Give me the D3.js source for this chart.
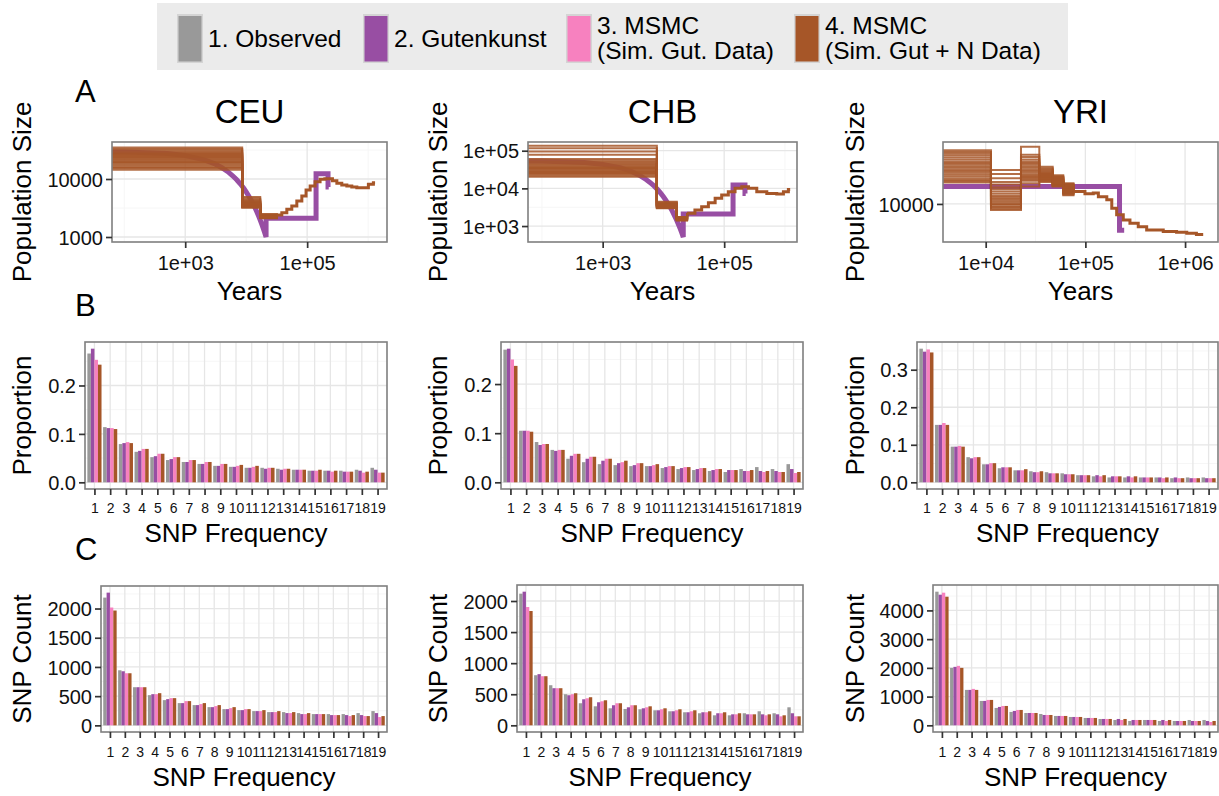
<!DOCTYPE html>
<html><head><meta charset="utf-8">
<script src="https://cdn.jsdelivr.net/npm/d3@7"></script>
<style>
body{margin:0;background:#fff}
svg{display:block}
text{font-family:"Liberation Sans",Arial,Helvetica,sans-serif}
</style>
</head><body>
<svg id="c" width="1219" height="796"></svg>
<script>
// ---------------- DATA ----------------
const seriesNames = ["1. Observed", "2. Gutenkunst", "3. MSMC (Sim. Gut. Data)", "4. MSMC (Sim. Gut + N Data)"];
const seriesColors = ["#999999", "#984EA3", "#F781BF", "#A65628"];
const populations = ["CEU", "CHB", "YRI"];
const snpFreq = [1,2,3,4,5,6,7,8,9,10,11,12,13,14,15,16,17,18,19];

// Panel B: proportions
const propCEU_obs  = [0.266,0.114,0.079,0.063,0.052,0.046,0.042,0.038,0.034,0.032,0.030,0.030,0.028,0.026,0.024,0.024,0.024,0.026,0.030];
const propCEU_gut  = [0.276,0.112,0.081,0.065,0.054,0.048,0.042,0.038,0.034,0.032,0.030,0.028,0.026,0.026,0.024,0.024,0.022,0.024,0.026];
const propCEU_msG  = [0.253,0.112,0.083,0.069,0.059,0.052,0.046,0.042,0.038,0.034,0.032,0.030,0.028,0.026,0.024,0.022,0.022,0.020,0.020];
const propCEU_msN  = [0.243,0.110,0.081,0.069,0.059,0.052,0.046,0.042,0.038,0.036,0.034,0.030,0.028,0.026,0.026,0.024,0.022,0.022,0.020];
const propCHB_obs  = [0.270,0.105,0.082,0.066,0.048,0.041,0.037,0.035,0.033,0.033,0.029,0.027,0.025,0.023,0.021,0.027,0.031,0.027,0.037];
const propCHB_gut  = [0.272,0.105,0.076,0.064,0.054,0.048,0.044,0.039,0.035,0.033,0.031,0.029,0.027,0.025,0.025,0.023,0.023,0.023,0.027];
const propCHB_msG  = [0.250,0.105,0.078,0.066,0.058,0.052,0.048,0.041,0.039,0.035,0.033,0.031,0.029,0.027,0.025,0.023,0.021,0.021,0.019];
const propCHB_msN  = [0.237,0.103,0.078,0.066,0.058,0.052,0.048,0.044,0.039,0.037,0.033,0.031,0.029,0.027,0.025,0.025,0.023,0.021,0.021];
const propYRI_obs  = [0.356,0.153,0.095,0.067,0.048,0.0375,0.032,0.0295,0.027,0.024,0.019,0.016,0.013,0.013,0.013,0.013,0.011,0.013,0.013];
const propYRI_gut  = [0.348,0.153,0.095,0.064,0.048,0.040,0.032,0.027,0.024,0.0215,0.019,0.019,0.016,0.016,0.013,0.013,0.013,0.011,0.011];
const propYRI_msG  = [0.354,0.158,0.097,0.067,0.051,0.040,0.032,0.027,0.024,0.0215,0.019,0.016,0.016,0.013,0.013,0.011,0.011,0.011,0.011];
const propYRI_msN  = [0.346,0.153,0.095,0.067,0.051,0.040,0.035,0.0295,0.024,0.0215,0.019,0.019,0.016,0.016,0.013,0.013,0.011,0.011,0.011];

// Panel C: counts
const cntCEU_obs = [2187,943,653,517,432,381,347,312,278,261,244,227,227,210,193,193,193,210,244];
const cntCEU_gut = [2272,926,653,534,449,381,347,312,278,261,244,227,210,193,193,176,176,176,210];
const cntCEU_msG = [2017,892,653,534,466,415,364,330,295,278,244,227,210,193,193,176,159,159,142];
const cntCEU_msN = [1966,892,653,551,466,415,381,347,312,278,261,244,227,210,193,176,176,159,159];
const cntCHB_obs = [2118,806,645,500,355,306,274,263,258,242,226,210,194,161,161,194,226,194,290];
const cntCHB_gut = [2150,823,597,484,419,371,323,290,274,242,226,210,210,194,177,177,177,177,194];
const cntCHB_msG = [1903,790,597,500,435,387,355,323,290,258,242,226,210,194,177,177,161,145,145];
const cntCHB_msN = [1839,790,597,516,452,403,355,323,306,274,258,242,226,210,194,177,177,161,145];
const cntYRI_obs = [4652,2000,1233,849,605,465,430,395,326,291,256,221,186,151,186,151,151,186,186];
const cntYRI_gut = [4547,2035,1233,849,640,500,430,360,326,291,256,221,221,186,186,186,151,151,151];
const cntYRI_msG = [4617,2070,1268,884,674,535,430,360,326,291,256,221,186,186,186,151,151,151,116];
const cntYRI_msN = [4477,2000,1233,884,674,535,430,360,326,291,256,221,221,186,186,186,151,151,151];

// Panel A: Gutenkunst model [years, N]
const gutCEU = [[63,29300],[100,29250],[500,27440],[1000,25330],[2000,21590],[3000,18390],[4000,15670],[5000,13360],[6000,11380],[7000,9700],[8000,8260],[9000,7040],[10000,6000],[11000,5110],[12000,4360],[13000,3710],[14000,3160],[15000,2700],[16000,2300],[17000,1960],[18000,1670],[19000,1420],[20000,1210],[21000,1030],[21200,1000],[21200,2100],[140000,2100],[140000,12300],[220000,12300],[220000,7300],[226000,7300]];
const gutCHB = [[59,53000],[100,52900],[500,48500],[1000,43400],[2000,34800],[3000,27900],[4000,22400],[5000,18000],[6000,14400],[7000,11600],[8000,9300],[9000,7460],[10000,5990],[11000,4810],[12000,3860],[13000,3100],[14000,2490],[15000,1990],[16000,1600],[17000,1285],[18000,1030],[19000,827],[20000,664],[21000,533],[21200,510],[21200,2100],[140000,2100],[140000,12300],[220000,12300],[220000,7300],[226000,7300]];
const gutYRI = [[3730,12300],[220000,12300],[220000,7300],[245000,7300]];

// Panel A: MSMC replicates - segment start times and per-replicate sizes
const ceuSegStarts = [63, 8600, 17000];
const ceuSeg1 = [22000,31000,18000,26000,15500,24000,35000,20000,17000,28000,21000,19000,33000,16000,25000,14500,23000,29500,19500,27000];
const ceuSeg2 = [3700,4200,3400,4900,3550,3900,3300,4100,3600,3250,4600,3450,3800,3650,4000,3200,4400,3500,3750,3350];
const ceuSeg3 = [2250,2350,2150,2300,2200,2400,2100,2280,2180,2450,2230,2320,2120,2260,2380,2160,2210,2340,2500,2240];
const ceuTail = [[31800,2390],[38400,2630],[46400,3000],[56000,3420],[67700,4170],[81800,5090],[96000,6460],[112000,7570],[135000,8970],[163000,9860],[195000,10100],[260000,9300],[307000,8430],[370000,7900],[448000,7570],[540000,7300],[653000,7080],[840000,7080],[1010000,8090],[1220000,8630],[1300000,8630]];

const chbSegStarts = [59, 7800, 16600];
const chbSeg1 = [33000,46000,25500,136000,29000,40000,22000,55000,31000,24000,95000,37000,27000,60000,20500,43000,117000,35000,78000,50000];
const chbSeg2 = [3400,3900,3150,4400,3550,3250,3700,3000,3600,4200,3300,3450,2950,3800,3500,3100,4000,3350,3650,3200];
const chbSeg3 = [1550,1650,1450,1700,1500,1600,1400,1750,1520,1580,1480,1620,1560,1680,1430,1530,1610,1470,1570,1640];
const chbTail = [[24500,2170],[33000,2650],[42600,3250],[55000,4150],[71000,5430],[91000,6640],[117000,8130],[151000,10000],[195000,11000],[251000,10000],[344000,8130],[503000,7360],[734000,7060],[944000,8130],[1140000,9400],[1220000,9400]];

const yriSegStarts = [3730, 11300, 22600, 34500, 47000, 60000];
const yriSeg1 = [16000,18600,13600,17400,14800,19000,15400,13100,17000,14200,16600,12900,18200,15100,13900,16300,14500,17800,13300,15700];
const yriSeg2 = [11300,13600,9700,15000,10400,12200,9300,11900,10800,14300,10000,12600,9600,11600,13000,9900,11000,10200,9450,10600];
const yriSeg3 = [15400,17500,13400,19800,14500,16300,12300,15700,13800,18000,14800,16600,13200,15100,17000,12800,14200,16000,13600,14000];
const yriSeg4 = [14200,15300,13500,15600,13800,14700,13000,14400,13700,15100,13300,14900,13150,14100,14500,13400,14000,13900,13600,14300];
const yriSeg5 = [13300,14100,12600,13800,12900,13500,12300,13100,12700,13900,12450,13600,12500,13000,13700,12400,13200,12650,12800,13400];
const yriSeg6 = [11900,12700,11400,12800,11600,12300,11100,12100,11700,12600,11300,12400,11200,12000,12500,11500,11950,11650,11800,12200];
const yriTail = [[76000,11600],[99000,11300],[120000,11400],[135000,10900],[164000,10500],[184000,9500],[206000,8780],[240000,8260],[280000,7940],[339000,7620],[412000,7330],[604000,7190],[822000,7130],[1040000,7050],[1300000,6950],[1520000,6950]];

// Panel A axes (limits and ticks)
const aXDomains = [[63, 2040000], [59, 1580000], [3730, 2140000]];
const aYDomains = [[820, 43450], [377, 170200], [6350, 20940]];
const aXTicks = [[1e3, 1e5], [1e3, 1e5], [1e4, 1e5, 1e6]];
const aXTickLabels = [["1e+03","1e+05"], ["1e+03","1e+05"], ["1e+04","1e+05","1e+06"]];
const aXMinor = [[1e2, 1e4, 1e6], [1e2, 1e4, 1e6], [31623, 316228]];
const aYTicks = [[1000, 10000], [1e3, 1e4, 1e5], [10000]];
const aYTickLabels = [["1000","10000"], ["1e+03","1e+04","1e+05"], ["10000"]];
const aYMinor = [[3162, 31623], [3162, 31623], []];

const bYTicks = [[0, 0.1, 0.2], [0, 0.1, 0.2], [0, 0.1, 0.2, 0.3]];
const cYTicks = [[0, 500, 1000, 1500, 2000], [0, 500, 1000, 1500, 2000], [0, 1000, 2000, 3000, 4000]];

// ---------------- LAYOUT ----------------
const layoutA = [{x0:112,x1:387,y0:142,y1:242},{x0:528,x1:797,y0:142,y1:242},{x0:943,x1:1218,y0:142,y1:242}];
const layoutB = [{x0:85,x1:387,y0:342,y1:489},{x0:501,x1:803,y0:342,y1:489},{x0:917,x1:1218,y0:342,y1:489}];
const layoutC = [{x0:101,x1:387,y0:586,y1:732},{x0:517,x1:803,y0:585,y1:732},{x0:933,x1:1218,y0:585,y1:732}];
const yTitleX = [31, 447, 864];

const svg = d3.select("#c");
const GRID_MAJOR = "#e6e6e6", GRID_MINOR = "#f6f6f6", BORDER = "#7f7f7f";
let clipId = 0;

function frame(r) {
  const g = svg.append("g");
  const id = "clip" + (clipId++);
  svg.append("clipPath").attr("id", id).append("rect")
    .attr("x", r.x0).attr("y", r.y0).attr("width", r.x1 - r.x0).attr("height", r.y1 - r.y0);
  g.append("rect").attr("x", r.x0).attr("y", r.y0).attr("width", r.x1 - r.x0).attr("height", r.y1 - r.y0).attr("fill", "#fff");
  const inner = g.append("g").attr("clip-path", `url(#${id})`);
  return {g, inner};
}
function vgrid(inner, r, x, vals, col, w) {
  inner.selectAll(null).data(vals).enter().append("line")
    .attr("x1", d => x(d)).attr("x2", d => x(d)).attr("y1", r.y0).attr("y2", r.y1)
    .attr("stroke", col).attr("stroke-width", w);
}
function hgrid(inner, r, y, vals, col, w) {
  inner.selectAll(null).data(vals).enter().append("line")
    .attr("y1", d => y(d)).attr("y2", d => y(d)).attr("x1", r.x0).attr("x2", r.x1)
    .attr("stroke", col).attr("stroke-width", w);
}
function border(g, r) {
  g.append("rect").attr("x", r.x0).attr("y", r.y0).attr("width", r.x1 - r.x0).attr("height", r.y1 - r.y0)
    .attr("fill", "none").attr("stroke", BORDER).attr("stroke-width", 1.6);
}
function styleAxis(ax, fs) {
  ax.select(".domain").remove();
  ax.attr("font-family", null).attr("font-size", null);
  ax.selectAll(".tick line").attr("stroke", "#333").attr("stroke-width", 1.7);
  ax.selectAll(".tick text").attr("fill", "#111").style("font-size", fs + "px");
}
function xAxis(r, x, vals, fmt, fs, baseline) {
  const ax = svg.append("g").attr("transform", `translate(0,${r.y1})`)
    .call(d3.axisBottom(x).tickValues(vals).tickFormat(fmt).tickSize(6).tickSizeOuter(0));
  styleAxis(ax, fs);
  ax.selectAll(".tick text").attr("y", baseline - r.y1).attr("dy", 0);
}
function yAxis(r, y, vals, fmt, fs) {
  const ax = svg.append("g").attr("transform", `translate(${r.x0},0)`)
    .call(d3.axisLeft(y).tickValues(vals).tickFormat(fmt).tickSize(6).tickSizeOuter(0));
  styleAxis(ax, fs);
  ax.selectAll(".tick text").attr("x", -9).attr("dy", "0.36em");
}
function xTitle(r, txt, baseline) {
  svg.append("text").attr("x", (r.x0 + r.x1) / 2).attr("y", baseline).attr("text-anchor", "middle")
    .style("font-size", "26px").attr("fill", "#000").text(txt);
}
function yTitle(r, xpos, txt) {
  const cy = (r.y0 + r.y1) / 2;
  svg.append("text").attr("transform", `translate(${xpos},${cy}) rotate(-90)`).attr("text-anchor", "middle")
    .style("font-size", "26px").attr("fill", "#000").text(txt);
}

// ---------------- LEGEND ----------------
const legendG = svg.append("g");
legendG.append("rect").attr("x", 157).attr("y", 3).attr("width", 911).attr("height", 67).attr("fill", "#ebebeb");
const legendKeyX = [177, 363, 566, 794];
const legendLines = [["1. Observed"], ["2. Gutenkunst"], ["3. MSMC", "(Sim. Gut. Data)"], ["4. MSMC", "(Sim. Gut + N Data)"]];
seriesNames.forEach((name, i) => {
  const kx = legendKeyX[i];
  legendG.append("rect").attr("x", kx).attr("y", 14).attr("width", 26).attr("height", 49).attr("fill", "#d4d4d4");
  legendG.append("rect").attr("x", kx + 1.5).attr("y", 16).attr("width", 23).attr("height", 45.5).attr("fill", seriesColors[i]);
  const t = legendG.append("text").attr("x", kx + 31).style("font-size", "24.5px").attr("fill", "#000");
  const lines = legendLines[i];
  if (lines.length === 1) {
    t.attr("y", 47).text(lines[0]);
  } else {
    lines.forEach((ln, j) => t.append("tspan").attr("x", kx + 31).attr("y", 34 + j * 25).text(ln));
  }
});

// Row labels
[["A", 102], ["B", 316], ["C", 560]].forEach(([l, y]) => {
  svg.append("text").attr("x", 75).attr("y", y).style("font-size", "31px").attr("fill", "#000").text(l);
});

// ---------------- PANEL A ----------------
const gutData = [gutCEU, gutCHB, gutYRI];
const segStarts = [ceuSegStarts, chbSegStarts, yriSegStarts];
const segVals = [[ceuSeg1, ceuSeg2, ceuSeg3], [chbSeg1, chbSeg2, chbSeg3], [yriSeg1, yriSeg2, yriSeg3, yriSeg4, yriSeg5, yriSeg6]];
const tails = [ceuTail, chbTail, yriTail];

populations.forEach((pop, p) => {
  const r = layoutA[p];
  const x = d3.scaleLog().domain(aXDomains[p]).range([r.x0, r.x1]);
  const y = d3.scaleLog().domain(aYDomains[p]).range([r.y1, r.y0]);
  const {g, inner} = frame(r);
  vgrid(inner, r, x, aXMinor[p], GRID_MINOR, 1);
  hgrid(inner, r, y, aYMinor[p], GRID_MINOR, 1);
  vgrid(inner, r, x, aXTicks[p], GRID_MAJOR, 1.3);
  hgrid(inner, r, y, aYTicks[p], GRID_MAJOR, 1.3);

  const line = d3.line().x(d => x(d[0])).y(d => y(d[1]));
  inner.append("path").datum(gutData[p]).attr("d", line).attr("fill", "none")
    .attr("stroke", seriesColors[1]).attr("stroke-width", 5).attr("stroke-linejoin", "miter");

  const stepLine = d3.line().x(d => x(d[0])).y(d => y(d[1])).curve(d3.curveStepAfter);
  const starts = segStarts[p], vals = segVals[p], tail = tails[p];
  const nRep = vals[0].length;
  for (let i = 0; i < nRep; i++) {
    const pts = starts.map((s, k) => [s, vals[k][i]]);
    pts.push([tail[0][0], tail[0][1]]);
    inner.append("path").datum(pts).attr("d", stepLine).attr("fill", "none")
      .attr("stroke", seriesColors[3]).attr("stroke-width", 2).attr("stroke-opacity", 0.85);
  }
  inner.append("path").datum(tail).attr("d", stepLine).attr("fill", "none")
    .attr("stroke", seriesColors[3]).attr("stroke-width", 3);

  border(g, r);
  xAxis(r, x, aXTicks[p], (d, i) => aXTickLabels[p][i], 20, 270);
  yAxis(r, y, aYTicks[p], (d, i) => aYTickLabels[p][i], 20);
  svg.append("text").attr("x", (r.x0 + r.x1) / 2).attr("y", 123).attr("text-anchor", "middle")
    .style("font-size", "33px").attr("fill", "#000").text(pop);
  xTitle(r, "Years", 300);
  yTitle(r, yTitleX[p], "Population Size");
});

// ---------------- PANELS B & C ----------------
const propData = [[propCEU_obs, propCEU_gut, propCEU_msG, propCEU_msN], [propCHB_obs, propCHB_gut, propCHB_msG, propCHB_msN], [propYRI_obs, propYRI_gut, propYRI_msG, propYRI_msN]];
const cntData = [[cntCEU_obs, cntCEU_gut, cntCEU_msG, cntCEU_msN], [cntCHB_obs, cntCHB_gut, cntCHB_msG, cntCHB_msN], [cntYRI_obs, cntYRI_gut, cntYRI_msG, cntYRI_msN]];

function barPanel(r, data, ticks, fmt, yLab, xLabBaseline, xTitleBaseline, p) {
  const x = d3.scalePoint().domain(snpFreq).range([r.x0, r.x1]).padding(0.6);
  const step = x.step();
  const sub = d3.scaleBand().domain(d3.range(4)).range([-0.45 * step, 0.45 * step]).paddingInner(0);
  const maxV = d3.max(data.flat());
  const y = d3.scaleLinear().domain([-0.05 * maxV, 1.05 * maxV]).range([r.y1, r.y0]);
  const {g, inner} = frame(r);
  const minor = [];
  for (let i = 0; i < ticks.length; i++) {
    const st = ticks[1] - ticks[0];
    minor.push(ticks[i] + st / 2);
  }
  hgrid(inner, r, y, minor, GRID_MINOR, 1);
  hgrid(inner, r, y, ticks, GRID_MAJOR, 1.3);
  vgrid(inner, r, x, snpFreq, GRID_MAJOR, 1.3);
  data.forEach((ser, s) => {
    inner.selectAll(null).data(ser).enter().append("rect")
      .attr("x", (d, i) => x(snpFreq[i]) + sub(s))
      .attr("width", sub.bandwidth())
      .attr("y", d => y(d))
      .attr("height", d => y(0) - y(d))
      .attr("fill", seriesColors[s]);
  });
  border(g, r);
  xAxis(r, x, snpFreq, d => String(d), 14, xLabBaseline);
  yAxis(r, y, ticks, fmt, 20);
  xTitle(r, "SNP Frequency", xTitleBaseline);
  yTitle(r, yTitleX[p], yLab);
}

populations.forEach((pop, p) => {
  barPanel(layoutB[p], propData[p], bYTicks[p], d3.format(".1f"), "Proportion", 513, 542, p);
  barPanel(layoutC[p], cntData[p], cYTicks[p], d3.format("d"), "SNP Count", 757, 786, p);
});
</script>
</body></html>
